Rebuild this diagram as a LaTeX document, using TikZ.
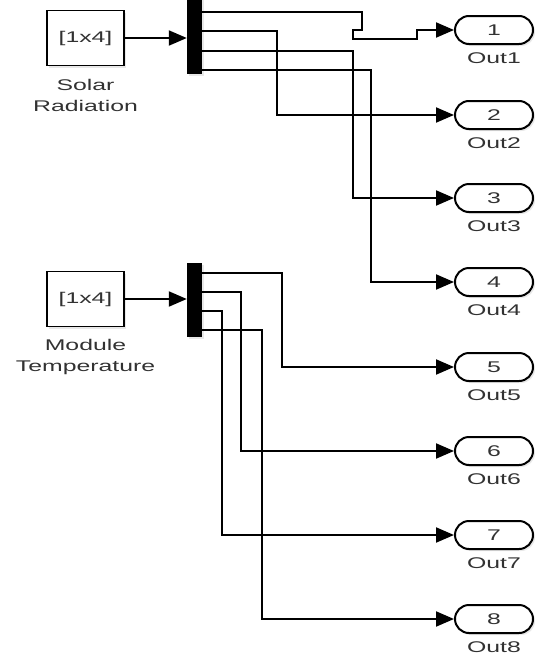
\documentclass[tikz,border=0pt]{standalone}
\usepackage{fontspec}
\setmainfont{Liberation Sans}
\newfontfamily\lblfont[FakeStretch=1.6]{Liberation Sans}
\usetikzlibrary{arrows.meta,shadows}
\definecolor{txt}{RGB}{50,50,50}
\begin{document}
\begin{tikzpicture}[x=1pt,y=-1pt,
  font=\lblfont\fontsize{15.5}{21}\selectfont,
  sig/.style={line width=2pt,-{Triangle[length=18pt,width=15pt]}},
  shd/.style={drop shadow={shadow xshift=2pt,shadow yshift=-2pt,opacity=0.18}},
  srcbox/.style={draw,line width=1.8pt,minimum width=77pt,minimum height=55pt,inner sep=0pt,fill=white,text=txt,shd},
  demux/.style={fill=black,minimum width=15pt,inner sep=0pt,shd},
  outport/.style={draw,line width=2pt,rounded corners=14pt,minimum width=78pt,minimum height=28pt,inner sep=0pt,fill=white,text=txt,shd},
  lbl/.style={text=txt,align=center,inner sep=0pt}
]
\useasboundingbox (0,0) rectangle (536,656);

% Solar Radiation source and demux
\node[srcbox] (srcA) at (85.5,38) {[1x4]};
\node[lbl] (lblA) at (85.5,95.5) {Solar\\Radiation};
\node[demux,minimum height=76pt] (dmA) at (194.5,36) {};
\draw[sig] (srcA.east) -- (srcA.east -| dmA.west);

% Module Temperature source and demux
\node[srcbox] (srcB) at (85.5,299) {[1x4]};
\node[lbl] (lblB) at (85.5,357) {Module\\Temperature};
\node[demux,minimum height=74pt] (dmB) at (194.5,300) {};
\draw[sig] (srcB.east) -- (srcB.east -| dmB.west);

% demux output points
\coordinate (a1) at (201.5,12);
\coordinate (a2) at (201.5,31);
\coordinate (a3) at (201.5,51);
\coordinate (a4) at (201.5,70);
\coordinate (b1) at (201.5,273);
\coordinate (b2) at (201.5,292);
\coordinate (b3) at (201.5,311);
\coordinate (b4) at (201.5,330);

% output ports
\foreach \i/\y in {1/30,2/115,3/198,4/282,5/367,6/451,7/535,8/619}{
  \node[outport] (o\i) at (494,\y) {\i};
  \node[lbl] (ol\i) at (494,{\y+28}) {Out\i};
}

% connectors
\draw[sig] (a1) -- (362,12) -- (362,30) -- (353,30) -- (353,39) -- (417,39) -- (417,30) -- (o1.west);
\draw[sig] (a2) -- (277,31) |- (o2.west);
\draw[sig] (a3) -- (353,51) |- (o3.west);
\draw[sig] (a4) -- (371,70) |- (o4.west);
\draw[sig] (b1) -- (282,273) |- (o5.west);
\draw[sig] (b2) -- (241,292) |- (o6.west);
\draw[sig] (b3) -- (222,311) |- (o7.west);
\draw[sig] (b4) -- (262,330) |- (o8.west);
\end{tikzpicture}
\end{document}
